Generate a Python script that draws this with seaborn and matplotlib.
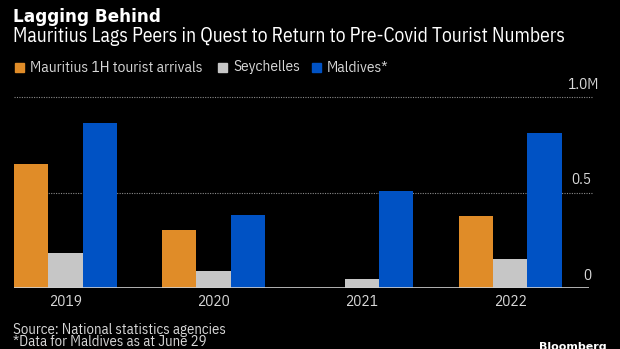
import numpy as np
import pandas as pd
import matplotlib
matplotlib.use("Agg")
import matplotlib.pyplot as plt
import seaborn as sns

years = ["2019", "2020", "2021", "2022"]
series = ["Mauritius 1H tourist arrivals", "Seychelles", "Maldives*"]
mauritius = [0.649, 0.305, 0.003, 0.377]
seychelles = [0.185, 0.089, 0.050, 0.155]
maldives = [0.867, 0.385, 0.511, 0.811]
ytick_values = [0, 0.5, 1.0]
ytick_labels = ["0", "0.5", "1.0M"]
colors = ["#E08C28", "#C6C6C6", "#0052C4"]

sns.set_theme(style="dark")
BODY = ["IBM Plex Sans Condensed", "DejaVu Sans"]
plt.rcParams["font.family"] = BODY

df = pd.DataFrame({
    "year": years * 3,
    "series": [series[0]] * 4 + [series[1]] * 4 + [series[2]] * 4,
    "value": mauritius + seychelles + maldives,
})

W, H = 620, 349
fig = plt.figure(figsize=(6.2, 3.49), dpi=100, facecolor="black")
ax = fig.add_axes([13.8 / W, 1 - 288.3 / H, 575.2 / W, 191 / H])
ax.set_facecolor("black")

sns.barplot(data=df, x="year", y="value", hue="series", palette=colors,
            width=0.695, ax=ax, legend=False, saturation=1, linewidth=0)

ax.set_xlim(-0.348, 3.533)
ax.set_ylim(0, 1.0)
ax.set_xlabel("")
ax.set_ylabel("")
ax.set_yticks([])
for s in ax.spines.values():
    s.set_visible(False)
ax.grid(False)

for v in ytick_values[1:]:
    ax.plot([0, 1.005], [v, v], transform=ax.get_yaxis_transform(), clip_on=False,
            color="#8a8a8a", linestyle=(0, (1, 1.2)), linewidth=0.8, zorder=0)
ax.axhline(0, color="#d0d0d0", linewidth=1.2, zorder=5)

renderer = fig.canvas.get_renderer()

def fit(t, target_px):
    bb = t.get_window_extent(renderer)
    t.set_fontsize(t.get_fontsize() * target_px / bb.width)
    return t

ytick_right = [591, 591, 599]
for v, lab, xr in zip(ytick_values, ytick_labels, ytick_right):
    ax.annotate(lab, xy=((xr - 13.8) / 575.2, v), xycoords=("axes fraction", "data"),
                xytext=(0, 4), textcoords="offset points",
                ha="right", va="bottom", color="#d8d8d8", fontsize=11)

ax.tick_params(axis="x", colors="#d8d8d8", labelsize=11, length=0, pad=5)

title = fig.text(13 / W, 1 - 17.5 / H, "Lagging Behind", color="white", fontsize=13,
                 fontweight="bold", ha="left", va="center", family="DejaVu Sans")
fit(title, 147)
sub = fig.text(13 / W, 1 - 36.5 / H,
               "Mauritius Lags Peers in Quest to Return to Pre-Covid Tourist Numbers",
               color="white", fontsize=13, ha="left", va="center")
fit(sub, 554)

legend_x = [15, 218, 312]
leg_size = None
for x0, lab, c in zip(legend_x, series, colors):
    fig.patches.append(plt.Rectangle((x0 / W, 1 - 72 / H), 9 / W, 9 / H,
                                     transform=fig.transFigure, color=c))
    t = fig.text((x0 + 15) / W, 1 - 67.5 / H, lab, color="#d8d8d8", fontsize=11,
                 ha="left", va="center")
    if leg_size is None:
        fit(t, 173)
        leg_size = t.get_fontsize()
    else:
        t.set_fontsize(leg_size)

src = fig.text(13 / W, 1 - 330 / H, "Source: National statistics agencies",
               color="#d8d8d8", fontsize=11, ha="left", va="center")
fit(src, 212)
note = fig.text(13 / W, 1 - 342.5 / H, "*Data for Maldives as at June 29",
                color="#d8d8d8", fontsize=src.get_fontsize(), ha="left", va="center")
logo = fig.text(539 / W, 1 - 342 / H, "Bloomberg", color="white", fontsize=12,
                fontweight="bold", ha="left", va="top", family="DejaVu Sans")
fit(logo, 68)

fig.savefig("out.png", dpi=100, facecolor="black")
